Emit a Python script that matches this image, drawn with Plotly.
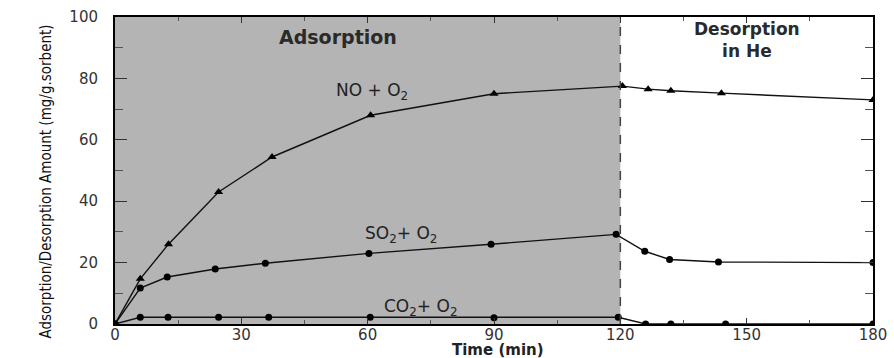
import plotly.graph_objects as go

# Data
time_no = [0, 6, 12.7, 24.6, 37.3, 60.7, 90, 120.5, 126.6, 132, 144, 180]
no_o2 = [0, 14.7, 26, 43, 54.4, 68, 75, 77.5, 76.5, 76, 75.2, 73]

time_so2 = [0, 6, 12.4, 23.8, 35.7, 60.3, 89.3, 119, 125.8, 131.7, 143.3, 180]
so2_o2 = [0, 11.7, 15.3, 17.9, 19.8, 23, 26, 29.2, 23.7, 21, 20.2, 20]

time_co2 = [0, 6, 12.6, 24.6, 36.5, 60.6, 90, 119.5, 126, 132, 145, 180]
co2_o2 = [0, 2.2, 2.2, 2.2, 2.2, 2.2, 2.0, 2.2, 0, 0, 0, 0]

switch_time = 120
x_ticks = [0, 30, 60, 90, 120, 150, 180]
y_ticks = [0, 20, 40, 60, 80, 100]

fig = go.Figure()

fig.add_shape(type="rect", xref="x", yref="y", x0=0, x1=switch_time, y0=0, y1=100,
              fillcolor="#b4b4b4", line=dict(width=0), layer="below")
fig.add_shape(type="line", xref="x", yref="y", x0=switch_time, x1=switch_time, y0=0, y1=100,
              line=dict(color="#444444", width=1.5, dash="dash"))

line_style = dict(color="#111111", width=1.4)
fig.add_trace(go.Scatter(x=time_no, y=no_o2, mode="lines+markers", line=line_style,
                         marker=dict(symbol="triangle-up", size=8, color="black"), showlegend=False))
fig.add_trace(go.Scatter(x=time_so2, y=so2_o2, mode="lines+markers", line=line_style,
                         marker=dict(symbol="circle", size=7, color="black"), showlegend=False))
fig.add_trace(go.Scatter(x=time_co2, y=co2_o2, mode="lines+markers", line=line_style,
                         marker=dict(symbol="circle", size=7, color="black"), showlegend=False))

lab_font = dict(family="DejaVu Sans", size=17, color="#222222")
head_font = dict(family="DejaVu Sans", size=19, color="#2a2a2a")
fig.add_annotation(x=53, y=93.5, text="<b>Adsorption</b>", showarrow=False, font=head_font)
fig.add_annotation(x=150, y=92.5, text="<b>Desorption</b><br><b>in He</b>",
                   showarrow=False, font=dict(family="DejaVu Sans", size=17, color="#2a2a2a"),
                   yanchor="middle")
fig.add_annotation(x=61, y=75.6, text="NO + O<sub>2</sub>", showarrow=False, font=lab_font)
fig.add_annotation(x=67.8, y=29, text="SO<sub>2</sub>+ O<sub>2</sub>", showarrow=False, font=lab_font)
fig.add_annotation(x=72.6, y=5.5, text="CO<sub>2</sub>+ O<sub>2</sub>", showarrow=False, font=lab_font)

# axis titles
fig.add_annotation(x=91, xref="x", y=0, yref="paper", yshift=-26, yanchor="middle",
                   text="<b>Time (min)</b>", showarrow=False,
                   font=dict(family="DejaVu Sans", size=15, color="#222222"))
fig.add_annotation(x=0, xref="paper", xshift=-81, y=0.5, yref="paper", yshift=-11,
                   text="Adsorption/Desorption Amount (mg/g.sorbent)", textangle=-90, showarrow=False,
                   font=dict(family="DejaVu Sans Condensed", size=15, color="#111111"))

tick_font = dict(family="DejaVu Sans", size=15, color="#333333")
axis_common = dict(showgrid=False, zeroline=False, showline=True, linecolor="black", linewidth=2,
                   mirror="ticks", ticks="inside", tickcolor="#333333", tickfont=tick_font,
                   automargin=False)

fig.update_xaxes(range=[0, 180], tickvals=x_ticks, ticktext=[str(v) for v in x_ticks],
                 ticklen=6, ticklabelstandoff=-4,
                 minor=dict(ticks="inside", ticklen=4, dtick=15, tickcolor="#555555"),
                 **axis_common)
fig.update_yaxes(range=[0, 100], tickvals=y_ticks, ticktext=[str(v) for v in y_ticks],
                 ticklen=12, ticklabelstandoff=12,
                 minor=dict(ticks="inside", ticklen=8, dtick=10, tickcolor="#555555"),
                 **axis_common)

fig.update_layout(width=894, height=358, margin=dict(l=115, r=21, t=17, b=34),
                  plot_bgcolor="white", paper_bgcolor="white")

fig.write_html("out.html")
